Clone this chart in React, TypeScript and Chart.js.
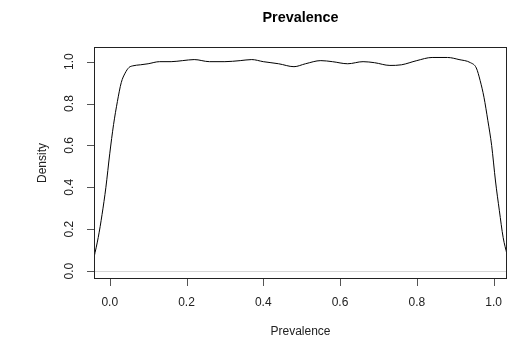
import React, { useEffect, useRef } from "react";
import { Chart, registerables } from "chart.js";

Chart.register(...registerables);

const densityX: number[] = [
  -0.041, -0.03, -0.02, -0.01, 0.0, 0.01, 0.02, 0.03, 0.04, 0.05, 0.06, 0.08,
  0.1, 0.13, 0.16, 0.19, 0.22, 0.26, 0.3, 0.34, 0.37, 0.4, 0.44, 0.48, 0.51,
  0.55, 0.58, 0.62, 0.66, 0.69, 0.73, 0.76, 0.8, 0.84, 0.88, 0.91, 0.94, 0.955,
  0.965, 0.975, 0.985, 0.995, 1.005, 1.015, 1.025, 1.035,
];
const densityY: number[] = [
  0.065, 0.16, 0.27, 0.4, 0.56, 0.7, 0.81, 0.9, 0.945, 0.972, 0.98, 0.985,
  0.99, 1.0, 1.0, 1.005, 1.01, 1.0, 1.0, 1.005, 1.01, 1.0, 0.99, 0.976, 0.99,
  1.005, 1.0, 0.99, 1.0, 0.995, 0.982, 0.985, 1.005, 1.02, 1.02, 1.01, 0.995,
  0.97, 0.91, 0.83, 0.72, 0.6, 0.43, 0.29, 0.16, 0.08,
];
const xTicks: number[] = [0, 0.2, 0.4, 0.6, 0.8, 1.0];
const yTicks: number[] = [0, 0.2, 0.4, 0.6, 0.8, 1.0];
const titleText = "Prevalence";
const xLabel = "Prevalence";
const yLabel = "Density";

const FONT = "Liberation Sans, Arial, sans-serif";

const rAxesPlugin = {
  id: "rAxes",
  beforeDatasetsDraw(chart: any) {
    const { ctx, chartArea, scales } = chart;
    const y0 = Math.round(scales.y.getPixelForValue(0)) + 0.5;
    ctx.save();
    ctx.strokeStyle = "#d6d6d6";
    ctx.lineWidth = 1;
    ctx.beginPath();
    ctx.moveTo(chartArea.left, y0);
    ctx.lineTo(chartArea.right, y0);
    ctx.stroke();
    ctx.restore();
  },
  afterDraw(chart: any) {
    const { ctx, chartArea, scales } = chart;
    const { left, right, top, bottom } = chartArea;
    ctx.save();
    ctx.strokeStyle = "#222";
    ctx.lineWidth = 1;
    ctx.strokeRect(Math.round(left) + 0.5, Math.round(top) + 0.5, Math.round(right - left) - 1, Math.round(bottom - top) - 1);

    ctx.fillStyle = "#222";
    ctx.strokeStyle = "#555";
    ctx.font = `12px ${FONT}`;
    ctx.textAlign = "center";
    ctx.textBaseline = "middle";
    const b = Math.round(bottom);
    ctx.beginPath();
    xTicks.forEach((v) => {
      const px = Math.round(scales.x.getPixelForValue(v)) + 0.5;
      ctx.moveTo(px, b);
      ctx.lineTo(px, b + 7);
    });
    ctx.stroke();
    xTicks.forEach((v) => {
      const px = scales.x.getPixelForValue(v);
      ctx.fillText(v.toFixed(1), px, b + 24);
    });
    const l = Math.round(left);
    ctx.beginPath();
    yTicks.forEach((v) => {
      const py = Math.round(scales.y.getPixelForValue(v)) + 0.5;
      ctx.moveTo(l, py);
      ctx.lineTo(l - 7, py);
    });
    ctx.stroke();
    yTicks.forEach((v) => {
      const py = scales.y.getPixelForValue(v);
      ctx.save();
      ctx.translate(l - 24, py);
      ctx.rotate(-Math.PI / 2);
      ctx.fillText(v.toFixed(1), 0, 0);
      ctx.restore();
    });
    ctx.fillText(xLabel, (left + right) / 2, 332);
    ctx.save();
    ctx.translate(43, (top + bottom) / 2);
    ctx.rotate(-Math.PI / 2);
    ctx.fillText(yLabel, 0, 0);
    ctx.restore();
    ctx.fillStyle = "#000";
    ctx.font = `bold 14.4px ${FONT}`;
    ctx.fillText(titleText, (left + right) / 2, 18);
    ctx.restore();
  },
};

export default function App() {
  const ref = useRef<HTMLCanvasElement | null>(null);
  useEffect(() => {
    if (!ref.current) return;
    const chart = new Chart(ref.current, {
      type: "line",
      data: {
        datasets: [
          {
            data: densityX.map((x, i) => ({ x, y: densityY[i] })),
            borderColor: "#000",
            borderWidth: 1,
            pointRadius: 0,
            fill: false,
            cubicInterpolationMode: "monotone",
          },
        ],
      },
      options: {
        responsive: false,
        animation: false,
        layout: { padding: { left: 94, top: 47, right: 8, bottom: 61 } },
        plugins: { legend: { display: false }, tooltip: { enabled: false }, title: { display: false } },
        scales: {
          x: { type: "linear", display: false, min: -0.041, max: 1.035 },
          y: { type: "linear", display: false, min: -0.038, max: 1.07 },
        },
      },
      plugins: [rAxesPlugin],
    });
    return () => chart.destroy();
  }, []);
  return (
    <div style={{ position: "fixed", left: 0, top: 0, width: 515, height: 340, background: "#fff" }}>
      <canvas ref={ref} width={515} height={340} style={{ display: "block" }} />
    </div>
  );
}
